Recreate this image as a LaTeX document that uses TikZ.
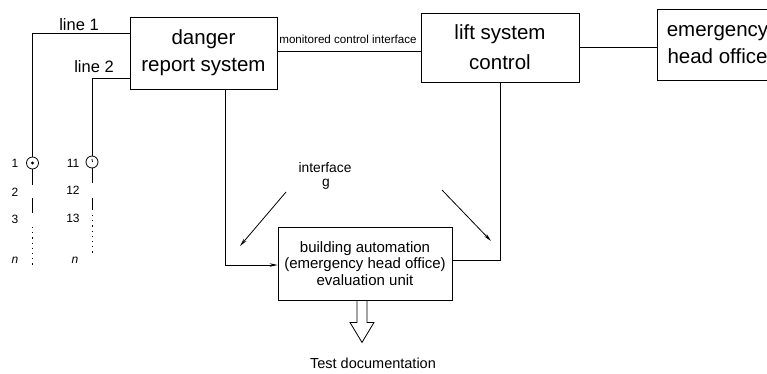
\documentclass[tikz,border=0pt]{standalone}
\usepackage{fontspec}
\setmainfont{Liberation Sans}
\usetikzlibrary{arrows.meta,calc}
\begin{document}
\begin{tikzpicture}[x=1pt,y=-1pt,line width=0.8pt,
  bigbox/.style={draw,inner sep=0pt,align=center},
  lbl/.style={inner sep=0pt,font=\fontsize{16.5}{18}\selectfont},
  num/.style={inner sep=0pt,font=\fontsize{12}{13}\selectfont},
  tip/.style={-{Stealth[length=8pt,width=3.5pt]}},
  sensor/.style={draw,circle,minimum size=12pt,inner sep=0pt}]
\clip (0,0) rectangle (767,373);
% boxes
\node[bigbox,minimum width=147pt,minimum height=72pt,font=\fontsize{20.5}{27}\selectfont] (danger) at (203.5,53) {danger\\report system};
\node[bigbox,minimum width=158pt,minimum height=69pt,font=\fontsize{20.5}{30}\selectfont] (lift) at (500,47.5) {lift system\\control};
\node[bigbox,minimum width=121pt,minimum height=71pt,font=\fontsize{20.5}{27}\selectfont] (emerg) at (717.5,44.5) {emergency\\head office};
\node[bigbox,minimum width=174pt,minimum height=73pt,font=\fontsize{15}{16.5}\selectfont] (bldg) at (365,263.5) {building automation\\(emergency head office)\\evaluation unit};
% sensors
\node[sensor] (c1) at (32.5,163) {};
\node[sensor] (c2) at (92,162) {};
\fill (c1.center) circle (1.6pt);
\draw ($(c2.center)+(0,-3)$) -- ($(c2.center)+(0.5,0)$);
% line 1 and line 2
\coordinate (l1) at (32.5,33);
\coordinate (l2) at (92,78);
\draw (danger.west |- l1) -- (l1) -- (c1.north);
\draw (danger.west |- l2) -- (l2) -- (c2.north);
\node[lbl] (line1) at (79,25) {line 1};
\node[lbl] (line2) at (94,67) {line 2};
% continuation of the lines
\coordinate (a2) at (32.5,185);
\coordinate (a3) at (32.5,198); \coordinate (a4) at (32.5,213);
\coordinate (a5) at (32.5,227); \coordinate (a6) at (32.5,265);
\draw (c1.south) -- (a2);
\draw (a3) -- (a4);
\draw[line width=1pt,dash pattern=on 1.2pt off 4pt] (a5) -- (a6);
\coordinate (b2) at (92,183);
\coordinate (b3) at (92,198); \coordinate (b4) at (92,210);
\coordinate (b5) at (92,215); \coordinate (b6) at (92,255);
\draw (c2.south) -- (b2);
\draw (b3) -- (b4);
\draw[line width=1pt,dash pattern=on 1.2pt off 4pt] (b5) -- (b6);
% numbers
\node[num] (n1) at (15,163) {1};
\node[num] (n2) at (15,192) {2};
\node[num] (n3) at (15,219) {3};
\node[num] (nn1) at (15,260) {\itshape n};
\node[num] (n11) at (73,163) {11};
\node[num] (n12) at (73,190) {12};
\node[num] (n13) at (73,218) {13};
\node[num] (nn2) at (75,260) {\itshape n};
% monitored control interface
\coordinate (m) at (350,51);
\draw (danger.east |- m) -- (lift.west |- m);
\node[inner sep=0pt,font=\fontsize{11.6}{13}\selectfont] (mci) at (348,39) {monitored control interface};
\draw (lift.east) -- (emerg.west |- lift.east);
% connections to building automation
\coordinate (d1) at (225,265);
\draw[tip] (danger.south -| d1) -- (d1) -- (bldg.west |- d1);
\coordinate (e1) at (500,260);
\draw (lift.south) -- (e1) -- (bldg.east |- e1);
% interface g
\node[inner sep=0pt,font=\fontsize{13.8}{15}\selectfont] (ifc) at (325,168) {interface};
\node[inner sep=0pt,font=\fontsize{13.8}{15}\selectfont,anchor=base] (g) at (326,186) {g};
\coordinate (p1) at (286,192); \coordinate (p2) at (240,246);
\coordinate (q1) at (442,190); \coordinate (q2) at (491,241);
\draw[tip] (p1) -- (p2);
\draw[tip] (q1) -- (q2);
% hollow output arrow
\draw[line width=0.8pt] ($(bldg.south)+(-8,0)$) -- ++(0,22) -- ++(-7,0) -- ++(12,20) -- ++(12,-20) -- ++(-7,0) -- ++(0,-22);
\node[inner sep=0pt,font=\fontsize{14.5}{16}\selectfont] (test) at (373,363) {Test documentation};
\end{tikzpicture}
\end{document}
